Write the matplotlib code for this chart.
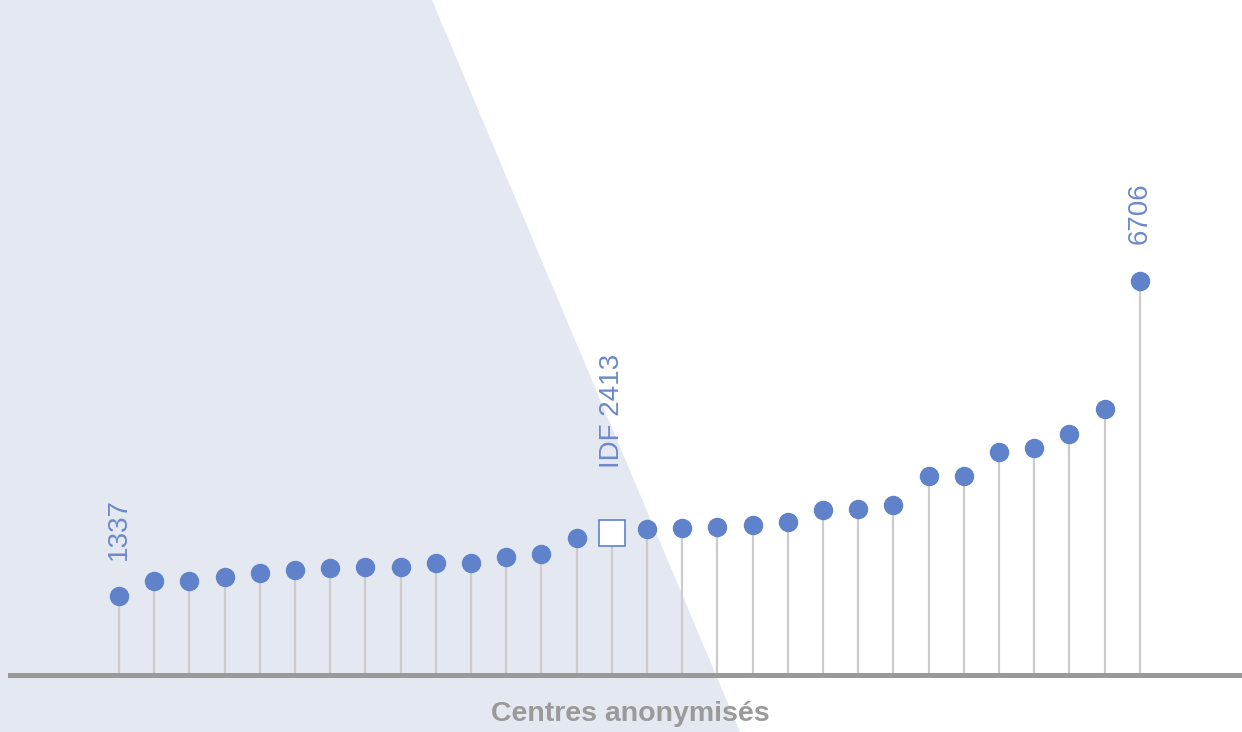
import numpy as np
import matplotlib.pyplot as plt
from matplotlib.patches import Polygon

# ------------------------------------------
# Data
# ------------------------------------------
centres = list(range(30))
values = [1337, 1598, 1598, 1666, 1734, 1785, 1819, 1836, 1836, 1904,
          1904, 2006, 2057, 2329, 2413, 2482, 2499, 2516, 2550, 2601,
          2805, 2822, 2890, 3383, 3383, 3791, 3859, 4097, 4522, 6706]
idf_index = 14
labels = {0: "1337", 14: "IDF 2413", 29: "6706"}
xlabel = "Centres anonymisés"

blue = "#5f82cb"
label_blue = "#6d89c9"

plt.rcParams["font.family"] = ["Liberation Sans", "DejaVu Sans"]

fig = plt.figure(figsize=(12.42, 7.32), dpi=100)
ax = fig.add_axes([0, 0, 1, 1])
ax.set_xlim(-3.38, 31.9)
ax.set_ylim(-969, 11475)
ax.axis("off")

# background shape
ax.add_patch(Polygon([(0, 1), (432 / 1242, 1), (740 / 1242, 0), (0, 0)],
                     closed=True, transform=ax.transAxes,
                     facecolor="#e4e8f0", edgecolor="none", zorder=0))

# stems
ax.vlines(centres, 0, values, color="#cccccc", linewidth=1.6, zorder=1)

# baseline
ax.axhline(0, xmin=10 / 1242, xmax=1, color="#999999", linewidth=3.6, zorder=2)

# dots
x = np.array(centres)
y = np.array(values)
mask = x != idf_index
ax.plot(x[mask], y[mask], "o", color=blue, markersize=13, zorder=3)
ax.plot([idf_index], [values[idf_index]], "s", markerfacecolor="white",
        markeredgecolor=blue, markeredgewidth=1.2, markersize=19, zorder=3)

# labels
for i, txt in labels.items():
    off = 47 if i == idf_index else 26
    ax.annotate(txt, (i, values[i]), xytext=(0, off), textcoords="offset points",
                rotation=90, ha="center", va="bottom", color=label_blue,
                fontsize=20)

ax.text(630 / 1242, 1 - 714 / 732, xlabel, transform=ax.transAxes,
        ha="center", va="center", color="#9a9a9a", fontsize=20.5,
        fontweight="bold")

fig.savefig("out.png", dpi=100)
